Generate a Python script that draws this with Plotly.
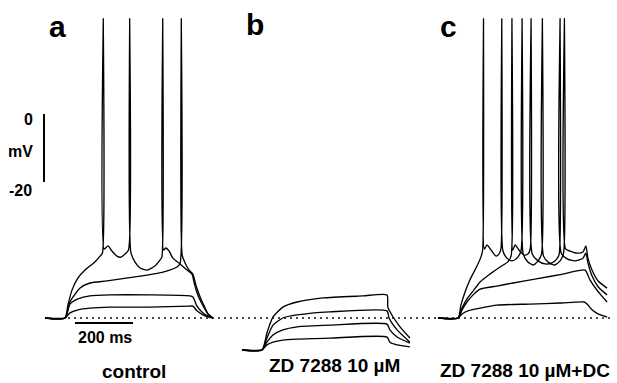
import plotly.graph_objects as go

# ---------------- data (time in ms from step onset, membrane potential in mV) ----------------
# panel a : control
a1_t = [-69, 0, 17, 45, 86, 155, 293, 431, 441, 455, 476, 493, 510]
a1_v = [-60, -60, -58.5, -57.6, -57.1, -56.8, -56.8, -56.5, -56.5, -57.9, -59.1, -59.7, -60]
a2_t = [-69, 0, 17, 45, 86, 155, 293, 431, 441, 455, 476, 493, 510]
a2_v = [-60, -60, -55.9, -54.4, -53.5, -53.2, -53.2, -53.5, -53.8, -56.5, -58.5, -59.4, -60]
a3_t = [-69, 0, 17, 52, 86, 145, 217, 283, 338, 386, 397, 401, 404, 414, 428, 441, 452, 466, 480, 493, 507]
a3_v = [-60, -60, -55.3, -51.2, -49.7, -49.1, -48.2, -47.4, -46.5, -45.0, -43.8, 28, -41.5, -43.8, -45.9,
        -47.1, -50.5, -53.8, -56.5, -58.8, -59.8]
a4_t = [-69, 0, 10, 24, 45, 69, 103, 121, 129, 132, 135, 148, 162, 179, 193, 207, 219, 223, 227, 241, 259,
        283, 310, 328, 334, 337, 340, 348, 359, 372, 397, 421, 438, 445, 455, 466, 480, 493, 507, 510]
a4_v = [-60, -60, -56.2, -51.8, -48.2, -45.9, -43.5, -41.8, -40.9, 28, -39.7, -38.8, -40.3, -41.8, -42.1,
        -41.2, -40.0, 28, -40.6, -43.5, -45.3, -45.9, -44.7, -42.9, -42.1, 28, -40.0, -39.4, -40.3, -42.4,
        -44.1, -45.9, -47.1, -49.5, -52.5, -54.8, -57.0, -58.8, -59.8, -60]

# panel b : ZD 7288 10 µM
b1_t = [-69, 0, 17, 38, 72, 121, 234, 431, 441, 466, 510]
b1_v = [-69.4, -69.4, -67.9, -67.1, -66.5, -66.2, -65.9, -65.6, -67.1, -67.9, -68.5]
b2_t = [-69, 0, 17, 38, 72, 121, 234, 431, 441, 466, 510]
b2_v = [-69.4, -69.4, -67.1, -65.0, -63.5, -62.6, -62.1, -61.8, -63.5, -65.6, -67.4]
b3_t = [-69, 0, 17, 38, 72, 121, 234, 431, 438, 466, 510]
b3_v = [-69.4, -69.4, -65.9, -62.1, -60.0, -59.1, -58.2, -57.9, -60.0, -63.5, -67.1]
b4_t = [-69, 0, 17, 38, 72, 121, 210, 348, 431, 434, 452, 476, 510]
b4_v = [-69.4, -69.4, -64.4, -59.7, -56.8, -55.3, -54.1, -53.5, -53.2, -56.8, -59.7, -62.6, -65.9]

# panel c : ZD 7288 10 µM + DC
c1_t = [-69, 0, 14, 34, 76, 134, 248, 352, 435, 445, 462, 483, 514]
c1_v = [-60, -60, -58.8, -57.9, -57.1, -56.2, -55.9, -55.6, -55.3, -55.9, -57.6, -58.8, -59.7]
c2_t = [-69, 0, 14, 31, 52, 76, 134, 190, 270, 362, 438, 455, 479, 514]
c2_v = [-60, -60, -57.6, -55.3, -53.2, -51.5, -50.6, -49.7, -48.5, -47.1, -45.9, -48.8, -51.8, -55.3]
c3_t = [-69, 0, 14, 31, 52, 76, 110, 145, 172, 183, 186, 189, 197, 210, 228, 241, 249, 252, 256, 276,
        300, 324, 341, 349, 352, 356, 376, 403, 431, 441, 448, 462, 483, 514]
c3_v = [-60, -60, -57.1, -54.4, -52.1, -49.4, -47.1, -45.0, -43.5, -41.8, 28, -40.0, -38.5, -40.0, -41.5,
        -41.2, -39.7, 28, -41.2, -43.2, -44.1, -43.8, -42.6, -41.2, 28, -40.9, -42.6, -43.2, -42.4, -40.9,
        -43.8, -47.6, -50.8, -53.2]
c4_t = [-69, 0, 10, 24, 41, 62, 79, 85, 88, 91, 100, 114, 131, 141, 148, 151, 155, 169, 186, 203, 217,
        221, 225, 241, 259, 276, 288, 291, 295, 314, 334, 352, 364, 367, 371, 386, 410, 431, 441, 448,
        462, 483, 514]
c4_v = [-60, -60, -56.2, -52.4, -48.8, -45.3, -42.1, -40.0, 28, -39.7, -38.5, -40.0, -41.8, -41.2, -39.7,
        28, -40.3, -42.4, -43.2, -42.4, -40.3, 28, -41.2, -43.5, -44.4, -43.2, -41.2, 28, -41.8, -43.8,
        -44.4, -43.2, -40.9, 28, -39.7, -40.3, -40.9, -40.6, -38.8, -42.4, -45.9, -49.1, -51.2]

rest_mv = -60
scale_v = [0, -20]      # vertical scale bar, mV
scale_t = 200           # horizontal scale bar, ms
panel_letters = ["a", "b", "c"]
panel_names = ["control", "ZD 7288 10 µM", "ZD 7288 10 µM+DC"]

# ---------------- layout helpers ----------------
W, H = 617, 383
PX_PER_MS = 0.29
PX_PER_MV = 3.4
ZERO_PY = 114
x_range = [0, W / PX_PER_MS]
y_range = [(ZERO_PY - H) / PX_PER_MV, ZERO_PY / PX_PER_MV]
offsets = [65 / PX_PER_MS, 262 / PX_PER_MS, 458 / PX_PER_MS]

def px(x):
    return x / W

def py(y):
    return 1 - y / H

fig = go.Figure()
panels = [
    [(a1_t, a1_v), (a2_t, a2_v), (a3_t, a3_v), (a4_t, a4_v)],
    [(b1_t, b1_v), (b2_t, b2_v), (b3_t, b3_v), (b4_t, b4_v)],
    [(c1_t, c1_v), (c2_t, c2_v), (c3_t, c3_v), (c4_t, c4_v)],
]

# dotted resting line
fig.add_trace(go.Scatter(x=[68 / PX_PER_MS, 612 / PX_PER_MS], y=[rest_mv, rest_mv], mode="lines",
                         line=dict(color="#111", width=1.7, dash="2px,4px"), hoverinfo="skip"))

for off, traces in zip(offsets, panels):
    for t, v in traces:
        fig.add_trace(go.Scatter(x=[ti + off for ti in t], y=v, mode="lines",
                                 line=dict(color="#000", width=1.35, shape="spline", smoothing=0.6),
                                 hoverinfo="skip"))

# scale bars
sx = 44 / PX_PER_MS
fig.add_trace(go.Scatter(x=[sx, sx], y=scale_v, mode="lines", line=dict(color="#000", width=2)))
hx0 = 75 / PX_PER_MS
hy = (ZERO_PY - 323) / PX_PER_MV
fig.add_trace(go.Scatter(x=[hx0, hx0 + scale_t], y=[hy, hy], mode="lines", line=dict(color="#000", width=2)))

font = "Liberation Sans, Arial, sans-serif"
ann = []
for lab, (x, y) in zip(panel_letters, [(57, 26), (255, 25), (448, 26)]):
    ann.append(dict(text=f"<b>{lab}</b>", x=px(x), y=py(y), yanchor="middle", font=dict(size=30, family=font)))
for lab, (x, yb) in zip(panel_names, [(134, 383), (334, 377), (525, 382)]):
    ann.append(dict(text=f"<b>{lab}</b>", x=px(x), y=py(yb), yanchor="bottom", font=dict(size=19, family=font)))
ann.append(dict(text="<b>200 ms</b>", x=px(105), y=py(337), yanchor="middle", font=dict(size=16, family=font)))
ann.append(dict(text="<b>0</b>", x=px(28), y=py(119), yanchor="middle", font=dict(size=16, family=font)))
ann.append(dict(text="<b>mV</b>", x=px(21), y=py(151), yanchor="middle", font=dict(size=16, family=font)))
ann.append(dict(text="<b>-20</b>", x=px(21), y=py(191), yanchor="middle", font=dict(size=16, family=font)))
for a in ann:
    a.update(xref="paper", yref="paper", showarrow=False, xanchor="center", borderpad=0)
    a["font"]["color"] = "#000"

fig.update_layout(
    width=W, height=H, margin=dict(l=0, r=0, t=0, b=0),
    paper_bgcolor="white", plot_bgcolor="white", showlegend=False,
    xaxis=dict(range=x_range, visible=False, fixedrange=True),
    yaxis=dict(range=y_range, visible=False, fixedrange=True),
    annotations=ann,
)
fig.write_html("out.html")
